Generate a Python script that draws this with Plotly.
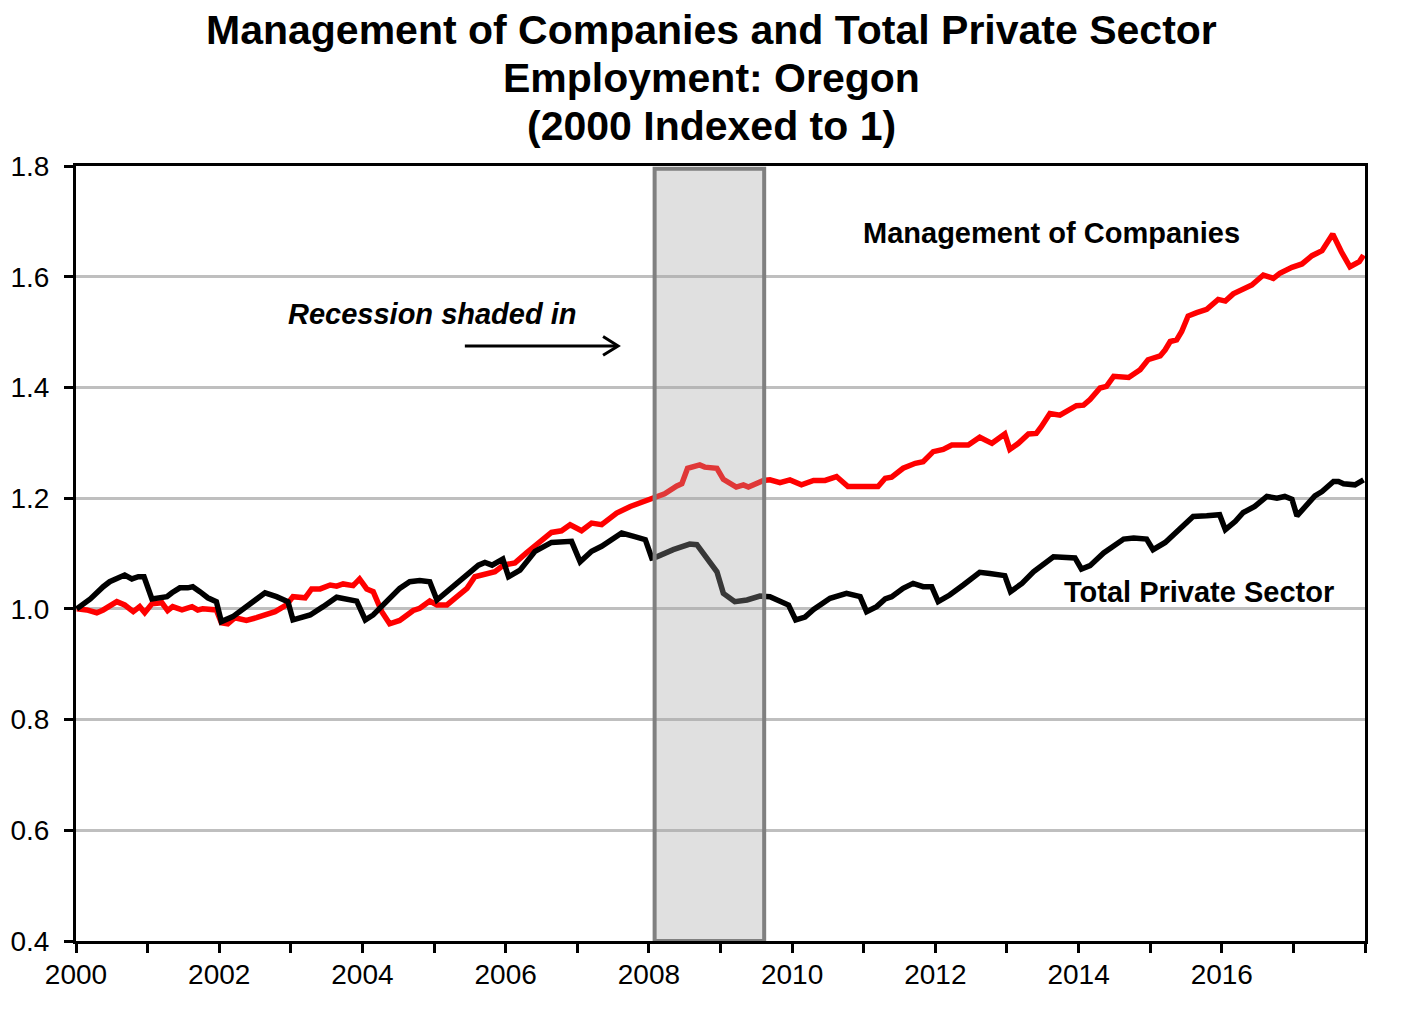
import plotly.graph_objects as go

# ---- Data ----
tps_t = [2000.01, 2000.20, 2000.38, 2000.47, 2000.68, 2000.78, 2000.87, 2000.95, 2001.06, 2001.27,
         2001.34, 2001.45, 2001.56, 2001.63, 2001.73, 2001.84, 2001.96, 2002.03, 2002.19, 2002.38,
         2002.64, 2002.80, 2002.96, 2003.03, 2003.27, 2003.45, 2003.64, 2003.92, 2004.04, 2004.15,
         2004.34, 2004.52, 2004.66, 2004.80, 2004.94, 2005.04, 2005.18, 2005.34, 2005.48, 2005.62,
         2005.71, 2005.81, 2005.96, 2006.04, 2006.20, 2006.41, 2006.64, 2006.92, 2007.04, 2007.20,
         2007.34, 2007.62, 2007.79, 2007.95, 2008.04, 2008.11, 2008.34, 2008.57, 2008.67, 2008.81,
         2008.95, 2009.04, 2009.20, 2009.37, 2009.55, 2009.69, 2009.83, 2009.95, 2010.05, 2010.18,
         2010.30, 2010.53, 2010.76, 2010.95, 2011.04, 2011.18, 2011.30, 2011.39, 2011.55, 2011.69,
         2011.83, 2011.95, 2012.04, 2012.20, 2012.39, 2012.62, 2012.76, 2012.97, 2013.05, 2013.21,
         2013.37, 2013.56, 2013.65, 2013.95, 2014.04, 2014.16, 2014.35, 2014.63, 2014.77, 2014.95,
         2015.04, 2015.21, 2015.39, 2015.60, 2015.79, 2015.97, 2016.05, 2016.19, 2016.30, 2016.46,
         2016.63, 2016.77, 2016.88, 2016.98, 2017.05, 2017.16, 2017.30, 2017.40, 2017.56, 2017.63,
         2017.70, 2017.86, 2017.98]
tps_v = [1.000, 1.018, 1.040, 1.049, 1.061, 1.054, 1.058, 1.058, 1.018, 1.022,
         1.029, 1.038, 1.038, 1.040, 1.031, 1.020, 1.013, 0.977, 0.986, 1.004,
         1.029, 1.022, 1.013, 0.980, 0.989, 1.004, 1.021, 1.014, 0.980, 0.989,
         1.013, 1.037, 1.049, 1.051, 1.049, 1.016, 1.031, 1.048, 1.064, 1.079,
         1.084, 1.079, 1.090, 1.058, 1.070, 1.104, 1.120, 1.122, 1.085, 1.104,
         1.113, 1.137, 1.131, 1.125, 1.092, 1.094, 1.107, 1.117, 1.116, 1.092,
         1.067, 1.028, 1.013, 1.016, 1.023, 1.022, 1.013, 1.007, 0.980, 0.985,
         0.999, 1.019, 1.028, 1.022, 0.995, 1.004, 1.018, 1.022, 1.037, 1.046,
         1.040, 1.040, 1.013, 1.025, 1.043, 1.066, 1.064, 1.060, 1.031, 1.046,
         1.067, 1.085, 1.094, 1.092, 1.072, 1.078, 1.101, 1.126, 1.128, 1.126,
         1.107, 1.120, 1.143, 1.167, 1.168, 1.170, 1.143, 1.158, 1.174, 1.185,
         1.203, 1.200, 1.203, 1.198, 1.168, 1.185, 1.204, 1.212, 1.230, 1.230,
         1.226, 1.224, 1.233]

moc_t = [2000.01, 2000.15, 2000.29, 2000.38, 2000.57, 2000.68, 2000.80, 2000.89, 2000.96, 2001.06,
         2001.20, 2001.28, 2001.35, 2001.48, 2001.62, 2001.70, 2001.77, 2001.96, 2002.03, 2002.12,
         2002.22, 2002.38, 2002.52, 2002.66, 2002.78, 2002.94, 2003.03, 2003.20, 2003.29, 2003.41,
         2003.55, 2003.64, 2003.73, 2003.87, 2003.96, 2004.06, 2004.15, 2004.27, 2004.38, 2004.52,
         2004.71, 2004.80, 2004.94, 2005.04, 2005.18, 2005.32, 2005.46, 2005.57, 2005.69, 2005.85,
         2005.97, 2006.13, 2006.29, 2006.48, 2006.64, 2006.78, 2006.90, 2007.06, 2007.20, 2007.34,
         2007.55, 2007.74, 2007.93, 2008.07, 2008.22, 2008.39, 2008.46, 2008.54, 2008.71, 2008.78,
         2008.95, 2009.04, 2009.22, 2009.32, 2009.39, 2009.60, 2009.69, 2009.83, 2009.97, 2010.13,
         2010.30, 2010.46, 2010.62, 2010.78, 2011.20, 2011.30, 2011.39, 2011.55, 2011.72, 2011.83,
         2011.97, 2012.11, 2012.23, 2012.46, 2012.62, 2012.79, 2012.97, 2013.04, 2013.16, 2013.30,
         2013.41, 2013.48, 2013.60, 2013.74, 2013.86, 2013.97, 2014.07, 2014.16, 2014.30, 2014.39,
         2014.49, 2014.70, 2014.86, 2014.97, 2015.14, 2015.21, 2015.28, 2015.37, 2015.44, 2015.53,
         2015.65, 2015.79, 2015.95, 2016.05, 2016.16, 2016.35, 2016.42, 2016.58, 2016.72, 2016.81,
         2016.98, 2017.12, 2017.26, 2017.40, 2017.55, 2017.67, 2017.79, 2017.92, 2017.98]
moc_v = [1.000, 0.998, 0.993, 0.998, 1.013, 1.007, 0.995, 1.004, 0.993, 1.009,
         1.011, 0.997, 1.004, 0.998, 1.004, 0.998, 1.000, 0.998, 0.975, 0.973,
         0.984, 0.979, 0.984, 0.991, 0.995, 1.007, 1.022, 1.020, 1.036, 1.036,
         1.043, 1.041, 1.045, 1.042, 1.054, 1.036, 1.031, 0.995, 0.973, 0.979,
         0.997, 1.001, 1.014, 1.007, 1.007, 1.022, 1.037, 1.058, 1.061, 1.067,
         1.079, 1.083, 1.101, 1.122, 1.138, 1.141, 1.152, 1.141, 1.155, 1.152,
         1.173, 1.185, 1.194, 1.203, 1.208, 1.222, 1.226, 1.254, 1.260, 1.256,
         1.254, 1.234, 1.220, 1.224, 1.220, 1.232, 1.233, 1.228, 1.233, 1.224,
         1.232, 1.232, 1.239, 1.221, 1.221, 1.236, 1.238, 1.254, 1.263, 1.266,
         1.284, 1.288, 1.296, 1.296, 1.310, 1.299, 1.316, 1.288, 1.299, 1.316,
         1.317, 1.329, 1.353, 1.350, 1.359, 1.367, 1.368, 1.378, 1.399, 1.402,
         1.420, 1.418, 1.432, 1.450, 1.457, 1.468, 1.483, 1.486, 1.501, 1.529,
         1.535, 1.541, 1.559, 1.556, 1.569, 1.581, 1.585, 1.603, 1.597, 1.606,
         1.617, 1.623, 1.638, 1.647, 1.677, 1.645, 1.618, 1.627, 1.639]

x_tickvals = list(range(2000, 2019))
x_ticktext = [str(y) if y % 2 == 0 and y < 2018 else "" for y in x_tickvals]
y_tickvals = [0.4, 0.6, 0.8, 1.0, 1.2, 1.4, 1.6, 1.8]

recession = (2008.08, 2009.61)

title_lines = ["Management of Companies and Total Private Sector",
               "Employment: Oregon",
               "(2000 Indexed to 1)"]

FONT = "Liberation Sans, Arial, sans-serif"

fig = go.Figure()
fig.add_trace(go.Scatter(x=moc_t, y=moc_v, mode="lines", name="Management of Companies",
                         line=dict(color="#ff0000", width=5.5)))
fig.add_trace(go.Scatter(x=tps_t, y=tps_v, mode="lines", name="Total Private Sector",
                         line=dict(color="#000000", width=5.5)))

# recession shading (semi-transparent, drawn above lines)
fig.add_shape(type="rect", xref="x", yref="y", x0=recession[0], x1=recession[1],
              y0=0.4, y1=1.795, layer="above",
              fillcolor="rgba(163,163,163,0.34)", line=dict(color="#808080", width=4))

# arrow
fig.add_shape(type="line", xref="x", yref="y", x0=2005.43, x1=2007.55, y0=1.475, y1=1.475,
              line=dict(color="black", width=3))
fig.add_shape(type="path", xref="x", yref="y",
              path="M 2007.36,1.492 L 2007.57,1.475 L 2007.36,1.458",
              line=dict(color="black", width=3))

ann = []
ypos = [1.176, 1.114, 1.052]
for txt, yy in zip(title_lines, ypos):
    ann.append(dict(text=f"<b>{txt}</b>", xref="paper", yref="paper", x=0.4934, y=yy,
                    xanchor="center", yanchor="middle", showarrow=False,
                    font=dict(family=FONT, size=41, color="black")))
ann.append(dict(text="<b><i>Recession shaded in</i></b>", xref="x", yref="y", x=2004.98, y=1.533,
                showarrow=False, xanchor="center", yanchor="middle",
                font=dict(family=FONT, size=29, color="black")))
ann.append(dict(text="<b>Management of Companies</b>", xref="x", yref="y", x=2013.62, y=1.679,
                showarrow=False, xanchor="center", yanchor="middle",
                font=dict(family=FONT, size=29, color="black")))
ann.append(dict(text="<b>Total Private Sector</b>", xref="x", yref="y", x=2015.68, y=1.031,
                showarrow=False, xanchor="center", yanchor="middle",
                font=dict(family=FONT, size=29, color="black")))

fig.update_layout(
    width=1405, height=1013,
    margin=dict(l=68, r=48, t=158, b=80),
    paper_bgcolor="white", plot_bgcolor="white",
    showlegend=False,
    annotations=ann,
    font=dict(family=FONT, color="black"),
)
fig.update_xaxes(range=[2000, 2018], tickvals=x_tickvals, ticktext=x_ticktext,
                 showgrid=False, zeroline=False, automargin=False,
                 showline=True, linecolor="black", linewidth=3, mirror=True,
                 ticks="outside", ticklen=9, tickwidth=3, tickcolor="black",
                 tickfont=dict(family=FONT, size=28, color="black"), ticklabelstandoff=-3)
fig.update_yaxes(range=[0.4, 1.8], tickvals=y_tickvals, tickformat=".1f",
                 showgrid=True, gridcolor="#bfbfbf", gridwidth=3, zeroline=False, automargin=False,
                 showline=True, linecolor="black", linewidth=3, mirror=True,
                 ticks="outside", ticklen=9, tickwidth=3, tickcolor="black",
                 tickfont=dict(family=FONT, size=28, color="black"), ticklabelstandoff=9)

fig.write_html("out.html")
